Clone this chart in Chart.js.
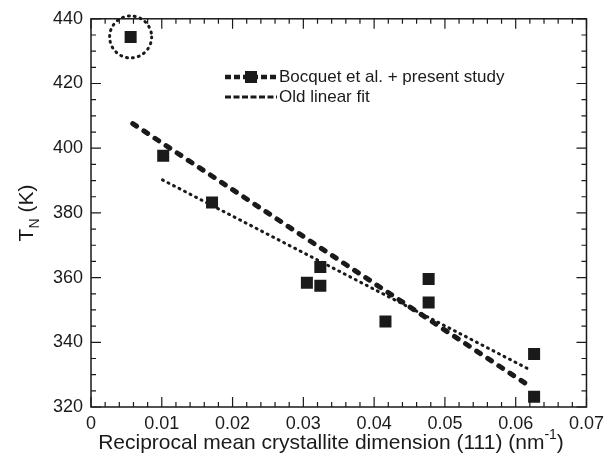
<!DOCTYPE html>
<html>
<head>
<meta charset="utf-8">
<script src="https://cdn.jsdelivr.net/npm/chart.js@4.4.1/dist/chart.umd.min.js"></script>
<style>
  body { margin: 0; background: #fff; }
  #wrap { width: 610px; height: 468px; }
</style>
</head>
<body>
<div id="wrap"><canvas id="tnChart" width="610" height="468"></canvas></div>
<script>
// measured points (reciprocal crystallite size vs Neel temperature)
const dimX = [0.0056, 0.0102, 0.0171, 0.0305, 0.0324, 0.0324, 0.0416, 0.0477, 0.0477, 0.0626, 0.0626];
const tnY = [434.4, 397.7, 383.2, 358.4, 363.3, 357.5, 346.4, 359.6, 352.3, 336.4, 323.2];

// fit lines, end points
const fitNewX = [0.0059, 0.0620];
const fitNewY = [407.6, 326.4];
const fitOldX = [0.0101, 0.0622];
const fitOldY = [390.2, 331.3];

const legendLabels = ["Bocquet et al. + present study", "Old linear fit"];
const xTitle = "Reciprocal mean crystallite dimension (111) (nm";
const xTitleSup = "-1";
const yTitle = ["T", "N", " (K)"];

// the outlier that is circled
const circledIdx = 0;

const toPts = (xs, ys) => xs.map((x, i) => ({ x: x, y: ys[i] }));
const FONT = "'Liberation Sans', Arial, sans-serif";
const INK = "#1a1a1a";

const decoPlugin = {
  id: "deco",
  afterDatasetsDraw(chart) {
    const { ctx, chartArea: a, scales } = chart;
    const xs = scales.x, ys = scales.y;
    ctx.save();

    // frame
    ctx.strokeStyle = INK;
    ctx.lineWidth = 1.5;
    ctx.strokeRect(a.left, a.top, a.right - a.left, a.bottom - a.top);

    // inward ticks on all four sides
    ctx.lineWidth = 1.2;
    ctx.beginPath();
    for (let i = 0; i <= 35; i++) {
      const px = xs.getPixelForValue(i * 0.002);
      const len = i % 5 === 0 ? 10 : 5;
      ctx.moveTo(px, a.bottom); ctx.lineTo(px, a.bottom - len);
      ctx.moveTo(px, a.top); ctx.lineTo(px, a.top + len);
    }
    for (let v = 320; v <= 440; v += 5) {
      const py = ys.getPixelForValue(v);
      const len = v % 20 === 0 ? 10 : 5;
      ctx.moveTo(a.left, py); ctx.lineTo(a.left + len, py);
      ctx.moveTo(a.right, py); ctx.lineTo(a.right - len, py);
    }
    ctx.stroke();

    // dotted circle round the outlier
    const cx = xs.getPixelForValue(dimX[circledIdx]);
    const cy = ys.getPixelForValue(tnY[circledIdx]);
    ctx.lineWidth = 3;
    ctx.lineCap = "round";
    ctx.setLineDash([1, 5]);
    ctx.beginPath();
    ctx.arc(cx, cy, 21, 0, Math.PI * 2);
    ctx.stroke();

    // legend
    const lx0 = 225, lx1 = 277, ly = [77, 97];
    ctx.lineCap = "butt";
    ctx.lineWidth = 4.5;
    ctx.setLineDash([6, 3]);
    ctx.beginPath();
    ctx.moveTo(lx0, ly[0]); ctx.lineTo(lx1, ly[0]);
    ctx.stroke();
    ctx.fillStyle = INK;
    ctx.fillRect(245, ly[0] - 6, 12, 12);
    ctx.lineWidth = 3;
    ctx.setLineDash([6, 2.5]);
    ctx.beginPath();
    ctx.moveTo(lx0, ly[1]); ctx.lineTo(lx1, ly[1]);
    ctx.stroke();
    ctx.setLineDash([]);
    ctx.font = "17px " + FONT;
    ctx.textBaseline = "middle";
    ctx.textAlign = "left";
    ctx.fillText(legendLabels[0], 279, ly[0]);
    ctx.fillText(legendLabels[1], 279, ly[1]);

    // x title with superscript
    const big = "21px " + FONT, small = "14px " + FONT;
    ctx.font = big;
    ctx.textBaseline = "alphabetic";
    const wMain = ctx.measureText(xTitle).width;
    ctx.font = small;
    const wSup = ctx.measureText(xTitleSup).width;
    ctx.font = big;
    const wEnd = ctx.measureText(")").width;
    let tx = 331 - (wMain + wSup + wEnd) / 2;
    const tyBase = 449;
    ctx.fillText(xTitle, tx, tyBase);
    tx += wMain;
    ctx.font = small;
    ctx.fillText(xTitleSup, tx, tyBase - 10);
    tx += wSup;
    ctx.font = big;
    ctx.fillText(")", tx, tyBase);

    // y title, rotated, with subscript
    ctx.translate(33, 213);
    ctx.rotate(-Math.PI / 2);
    ctx.font = "21px " + FONT;
    const wT = ctx.measureText(yTitle[0]).width;
    ctx.font = small;
    const wN = ctx.measureText(yTitle[1]).width;
    ctx.font = "21px " + FONT;
    const wK = ctx.measureText(yTitle[2]).width;
    let yx = -(wT + wN + wK) / 2;
    ctx.fillText(yTitle[0], yx, 0);
    yx += wT;
    ctx.font = small;
    ctx.fillText(yTitle[1], yx, 6);
    yx += wN;
    ctx.font = "21px " + FONT;
    ctx.fillText(yTitle[2], yx, 0);

    ctx.restore();
  }
};

const ctx = document.getElementById("tnChart").getContext("2d");
new Chart(ctx, {
  type: "scatter",
  data: {
    datasets: [
      {
        label: "data",
        data: toPts(dimX, tnY),
        pointStyle: "rect",
        pointRadius: 8.5,
        pointBackgroundColor: INK,
        pointBorderWidth: 0,
        showLine: false,
        order: 0
      },
      {
        label: legendLabels[0],
        data: toPts(fitNewX, fitNewY),
        showLine: true,
        borderColor: INK,
        borderWidth: 5,
        borderCapStyle: "round",
        borderDash: [4.5, 8.8],
        pointRadius: 0,
        order: 1
      },
      {
        label: legendLabels[1],
        data: toPts(fitOldX, fitOldY),
        showLine: true,
        borderColor: INK,
        borderWidth: 3,
        borderCapStyle: "round",
        borderDash: [1, 5.2],
        pointRadius: 0,
        order: 2
      }
    ]
  },
  options: {
    responsive: false,
    animation: false,
    devicePixelRatio: 1,
    layout: { padding: { left: 0, right: 18, top: 15, bottom: 0 } },
    plugins: { legend: { display: false }, tooltip: { enabled: false } },
    scales: {
      x: {
        type: "linear",
        min: 0,
        max: 0.07,
        grid: { display: false, drawTicks: false },
        border: { display: false },
        ticks: {
          stepSize: 0.01,
          padding: 6,
          color: INK,
          font: { size: 18, family: FONT },
          callback: (v) => String(+v.toFixed(2))
        },
        afterFit: (s) => { s.height = 61; }
      },
      y: {
        min: 320,
        max: 440,
        grid: { display: false, drawTicks: false },
        border: { display: false },
        ticks: {
          stepSize: 20,
          padding: 8,
          color: INK,
          font: { size: 18, family: FONT }
        },
        afterFit: (s) => { s.width = 91; }
      }
    }
  },
  plugins: [decoPlugin]
});
</script>
</body>
</html>
